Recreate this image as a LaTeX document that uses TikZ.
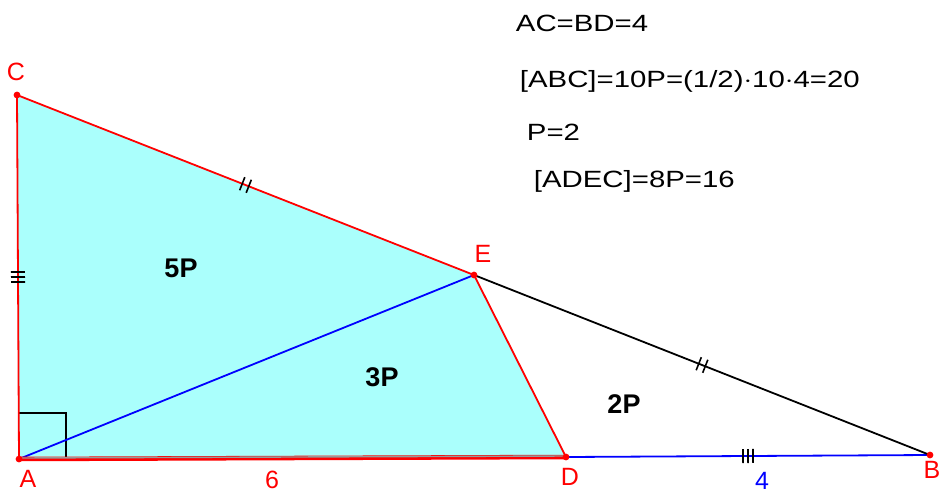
\documentclass[tikz,border=0pt]{standalone}
\usepackage{fontspec}
\setmainfont{Liberation Sans}
\usetikzlibrary{calc}
\begin{document}
\begin{tikzpicture}[x=1pt, y=-1pt, line width=1.8pt,
        vlab/.style={text=red,font=\fontsize{25}{29}\selectfont,inner sep=0pt,anchor=base},
        area/.style={font=\fontsize{27}{31}\selectfont\bfseries,inner sep=0pt},
        eqn/.style={font=\fontsize{23.5}{28}\selectfont,inner sep=0pt,anchor=base west},
        dot/.style={fill=red,draw=red}]
      \useasboundingbox (0,0) rectangle (941,495);
      \definecolor{cyanfill}{RGB}{170,255,252}
      \def\tl{7}   % half length of a tick mark
      \newcommand{\wide}[1]{\scalebox{1.25}[1]{#1}}
      \coordinate (A) at (19,459);
      \coordinate (C) at (17,95);
      \coordinate (E) at (474,275);
      \coordinate (D) at (566,457);
      \coordinate (B) at (930,455);
      \newcommand{\tickmarks}[3]{%
        \foreach \o in {#3}{
          \coordinate (t) at ($($(#1)!0.5!(#2)$)!\o pt!(#2)$);
          \draw[black,line width=1.6pt] ($(t)!\tl pt!90:(#2)$) -- ($(t)!-\tl pt!90:(#2)$);
        }
      }
      \fill[cyanfill] (A) -- (D) -- (E) -- (C) -- cycle;
      % right angle at A
      \draw[black] (19,413) -- (66,413) -- (66,459);
      \draw[blue] (A) -- (E);
      \draw[blue] (D) -- (B);
      \draw[black] (E) -- (B);
      \draw[red] (C) -- (A);
      \draw[red] (D) -- (E) -- (C);
      \draw[red,line width=4.5pt] (A) -- (D);
      \draw[gray!80,line width=1.4pt] ($(A)+(0,-1)$) -- ($(D)+(0,-1)$);
      \tickmarks{C}{A}{-5,0,5}
      \tickmarks{C}{E}{-3.5,3.5}
      \tickmarks{E}{B}{-3.5,3.5}
      \tickmarks{D}{B}{-5,0,5}
      \foreach \v in {A,C,E,D,B}{\filldraw[dot] (\v) circle(2.4);}
      \node[vlab] (lA) at (28,487) {A};
      \node[vlab] (lC) at (16,80) {C};
      \node[vlab] (lE) at (483,262) {E};
      \node[vlab] (lD) at (570,485) {D};
      \node[vlab] (lB) at (932,478) {B};
      \node[vlab] (lAD) at (272,488) {6};
      \node[vlab,text=blue] (lDB) at (762,489) {4};
      \node[area] (p5) at (181,268) {5P};
      \node[area] (p3) at (382,377) {3P};
      \node[area] (p2) at (624,404) {2P};
      \node[eqn] (e1) at (515,32) {\wide{AC=BD=4}};
      \node[eqn] (e2) at (519,87) {\wide{[ABC]=10P=(1/2)$\cdot$10$\cdot$4=20}};
      \node[eqn] (e3) at (526,140) {\wide{P=2}};
      \node[eqn] (e4) at (533,187) {\wide{[ADEC]=8P=16}};
    \end{tikzpicture}
\end{document}
